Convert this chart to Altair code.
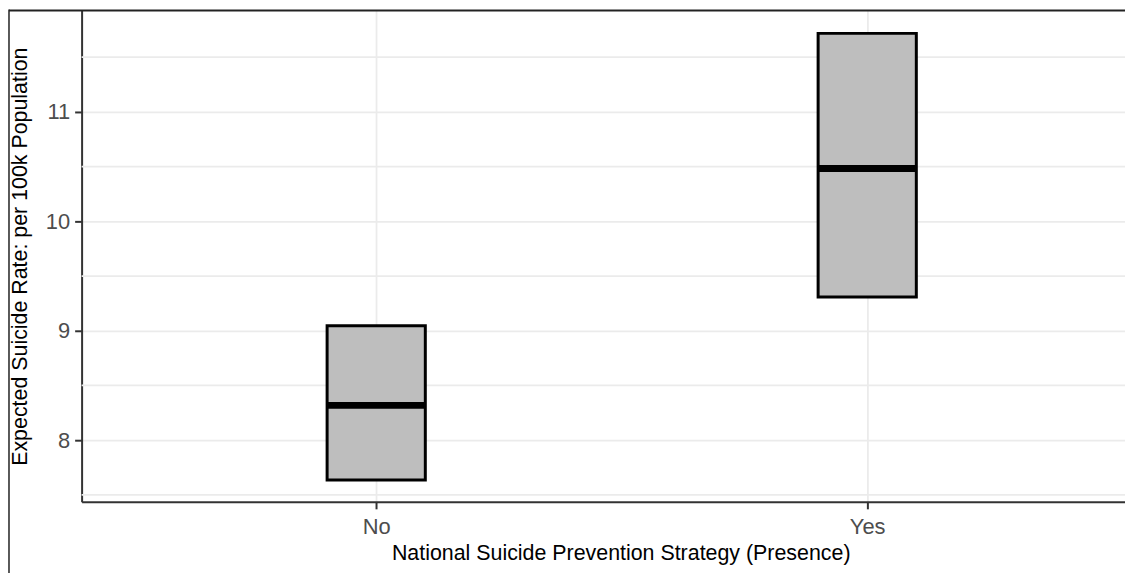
import altair as alt
import pandas as pd

categories = ["No", "Yes"]
lower = [7.636, 9.309]
median = [8.318, 10.482]
upper = [9.045, 11.718]
minor_grid = [7.5, 8.5, 9.5, 10.5, 11.5]

W, H = 1049, 494
df = pd.DataFrame({"cat": categories, "lower": lower, "median": median, "upper": upper})
df["pos"] = range(1, len(categories) + 1)
df["x_lo"] = df["pos"] - 0.1
df["x_hi"] = df["pos"] + 0.1

xscale = alt.Scale(domain=[0.4, 2.525], nice=False, zero=False)
yscale = alt.Scale(domain=[7.436, 11.927], nice=False, zero=False)

xaxis = alt.Axis(values=[1, 2], labelExpr="datum.value == 1 ? 'No' : 'Yes'",
                 title="National Suicide Prevention Strategy (Presence)",
                 grid=True, gridColor="#ebebeb", gridWidth=1.8,
                 domainColor="#333333", domainWidth=2, tickColor="#333333", tickWidth=2, tickSize=7,
                 labelFontSize=22, labelColor="#4d4d4d", labelPadding=8, labelFont="Liberation Sans",
                 titleFontSize=21.5, titleColor="#000000", titleFont="Liberation Sans", titleFontWeight="normal",
                 titlePadding=5, titleX=542)
yaxis = alt.Axis(values=[8, 9, 10, 11], format="d",
                 title="Expected Suicide Rate: per 100k Population",
                 grid=True, gridColor="#ebebeb", gridWidth=1.8,
                 domainColor="#333333", domainWidth=2, tickColor="#333333", tickWidth=2, tickSize=7,
                 labelFontSize=22, labelColor="#4d4d4d", labelPadding=5, labelFont="Liberation Sans",
                 titleFontSize=21.5, titleColor="#000000", titleFont="Liberation Sans", titleFontWeight="normal",
                 titlePadding=14)

minor = alt.Chart(pd.DataFrame({"v": minor_grid})).mark_rule(color="#ebebeb", strokeWidth=1.8).encode(
    y=alt.Y("v:Q", scale=yscale, axis=yaxis)
)

boxes = alt.Chart(df).mark_rect(fill="#bebebe", stroke="#000000", strokeWidth=3).encode(
    x=alt.X("x_lo:Q", scale=xscale, axis=xaxis),
    x2="x_hi:Q",
    y=alt.Y("lower:Q", scale=yscale, axis=yaxis),
    y2="upper:Q",
)

med = alt.Chart(df).mark_rule(color="#000000", strokeWidth=7).encode(
    x=alt.X("x_lo:Q", scale=xscale),
    x2="x_hi:Q",
    y=alt.Y("median:Q", scale=yscale),
)

top_line = alt.Chart(pd.DataFrame({"a": [0]})).mark_rule(color="#222222", strokeWidth=2).encode(
    x=alt.value(-73), x2=alt.value(W), y=alt.value(0)
)
frame_left = alt.Chart(pd.DataFrame({"a": [0]})).mark_rule(color="#222222", strokeWidth=1.5).encode(
    x=alt.value(-73), y=alt.value(-1), y2=alt.value(H + 90)
)

chart = alt.layer(minor, boxes, med, top_line, frame_left).properties(
    width=W, height=H,
    autosize=alt.AutoSizeParams(type="none"),
    padding={"left": 74, "top": 1, "right": 0, "bottom": 70},
).configure_view(stroke=None)

chart.save("out.html", embed_options={"renderer": "svg", "actions": False})
